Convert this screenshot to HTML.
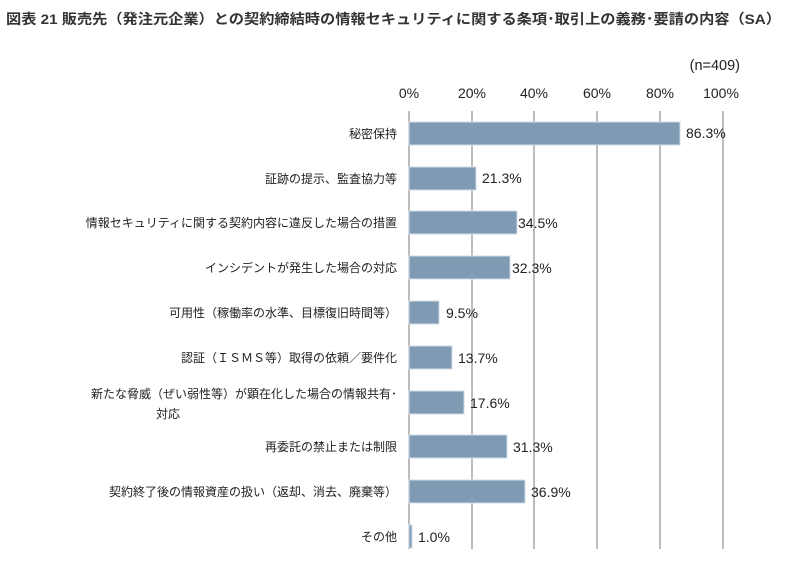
<!DOCTYPE html>
<html><head><meta charset="utf-8"><style>
body{margin:0;background:#fff;width:804px;height:581px;overflow:hidden;font-family:"Liberation Sans","Noto Sans CJK JP",sans-serif;color:#222}
</style></head><body>
<svg width="804" height="581" xmlns="http://www.w3.org/2000/svg" style="position:absolute;left:0;top:0">
<text x="6" y="24" font-size="14" font-weight="bold" fill="#333" textLength="775" lengthAdjust="spacingAndGlyphs" font-family="Liberation Sans,Noto Sans CJK JP,sans-serif">図表 21 販売先（発注元企業）との契約締結時の情報セキュリティに関する条項･取引上の義務･要請の内容（SA）</text>
<text x="740" y="70" font-size="14.5" text-anchor="end" fill="#222" font-family="Liberation Sans,sans-serif">(n=409)</text>
<g font-size="14" font-family="Liberation Sans,sans-serif" fill="#222" text-anchor="middle">
<text x="409" y="98">0%</text><text x="472" y="98">20%</text><text x="534" y="98">40%</text><text x="597" y="98">60%</text><text x="660" y="98">80%</text><text x="721" y="98">100%</text>
</g>
<g stroke="#999" stroke-width="1.3">
<line x1="409" y1="111" x2="409" y2="549"/><line x1="472" y1="111" x2="472" y2="549"/><line x1="534" y1="111" x2="534" y2="549"/><line x1="597" y1="111" x2="597" y2="549"/><line x1="660" y1="111" x2="660" y2="549"/><line x1="723" y1="111" x2="723" y2="549"/>
</g>
<g fill="#7f9ab3" stroke="#d0dbe6" stroke-width="1">
<rect x="409" y="122" width="271" height="23"/>
<rect x="409" y="167" width="67" height="23"/>
<rect x="409" y="211" width="108" height="23"/>
<rect x="409" y="256" width="101" height="23"/>
<rect x="409" y="301" width="30" height="23"/>
<rect x="409" y="346" width="43" height="23"/>
<rect x="409" y="391" width="55" height="23"/>
<rect x="409" y="435" width="98" height="23"/>
<rect x="409" y="480" width="116" height="23"/>
<rect x="409" y="525" width="3" height="23"/>
</g>
<g font-size="14" font-family="Liberation Sans,sans-serif" fill="#222">
<text x="686" y="138">86.3%</text><text x="482" y="183">21.3%</text><text x="518" y="228">34.5%</text><text x="512" y="273">32.3%</text><text x="446" y="318">9.5%</text><text x="458" y="363">13.7%</text><text x="470" y="408">17.6%</text><text x="513" y="452">31.3%</text><text x="531" y="497">36.9%</text><text x="418" y="542">1.0%</text>
</g>
<g font-size="12" font-family="Liberation Sans,Noto Sans CJK JP,sans-serif" fill="#222" text-anchor="end">
<text x="397" y="138">秘密保持</text>
<text x="397" y="183">証跡の提示、監査協力等</text>
<text x="397" y="227">情報セキュリティに関する契約内容に違反した場合の措置</text>
<text x="397" y="272">インシデントが発生した場合の対応</text>
<text x="397" y="317">可用性（稼働率の水準、目標復旧時間等）</text>
<text x="397" y="362">認証（ＩＳＭＳ等）取得の依頼／要件化</text>
<text x="397" y="398">新たな脅威（ぜい弱性等）が顕在化した場合の情報共有･</text>
<text x="156" y="418" text-anchor="start">対応</text>
<text x="397" y="451">再委託の禁止または制限</text>
<text x="397" y="496">契約終了後の情報資産の扱い（返却、消去、廃棄等）</text>
<text x="397" y="541">その他</text>
</g>
</svg>
</body></html>
